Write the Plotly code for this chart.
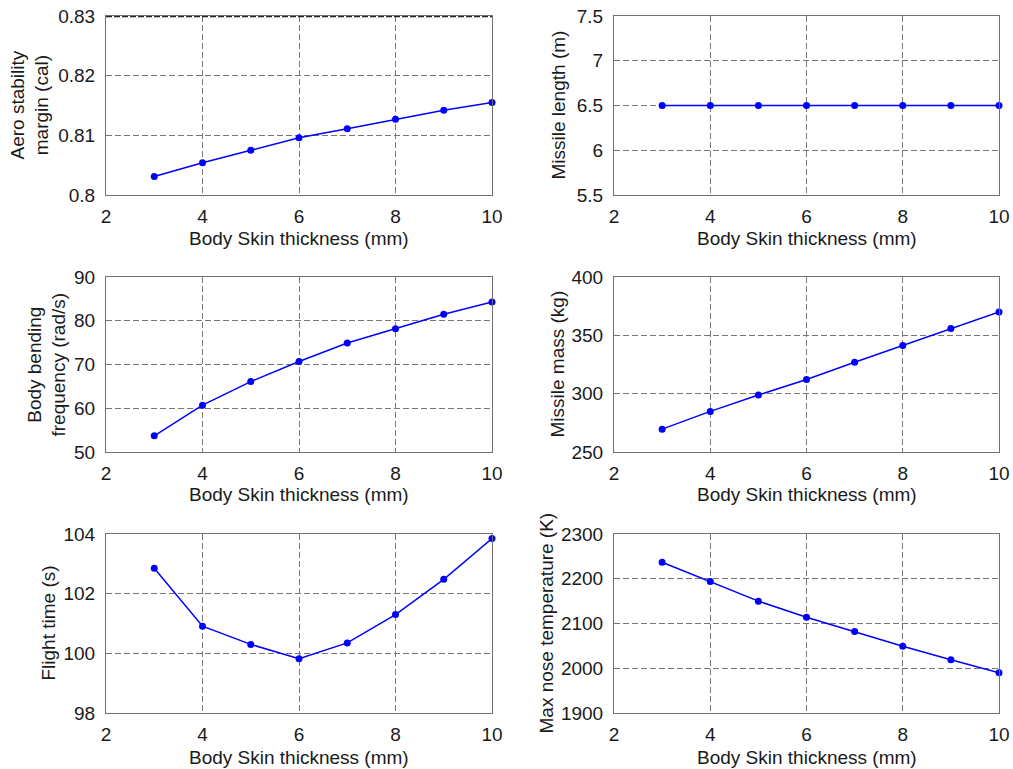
import plotly.graph_objects as go

# ---------------- data ----------------
thickness = [3, 4, 5, 6, 7, 8, 9, 10]
aero_margin = [0.8031, 0.8054, 0.8075, 0.8096, 0.8111, 0.8127, 0.8142, 0.8155]
missile_length = [6.5, 6.5, 6.5, 6.5, 6.5, 6.5, 6.5, 6.5]
bending_freq = [53.7, 60.7, 66.1, 70.7, 74.9, 78.2, 81.5, 84.3]
missile_mass = [269.6, 284.8, 298.8, 312.2, 326.9, 341.2, 355.9, 370.0]
flight_time = [102.85, 100.91, 100.30, 99.82, 100.35, 101.30, 102.48, 103.85]
nose_temp = [2237, 2194, 2150, 2114, 2082, 2049, 2019, 1990]

x_title = "Body Skin thickness (mm)"
y_titles = ["Aero stability<br>margin (cal)", "Missile length (m)",
            "Body bending<br>frequency (rad/s)", "Missile mass (kg)",
            "Flight time (s)", "Max nose temperature (K)"]
series = [aero_margin, missile_length, bending_freq, missile_mass, flight_time, nose_temp]
y_ranges = [[0.80, 0.83], [5.5, 7.5], [50, 90], [250, 400], [98, 104], [1900, 2300]]
y_dticks = [0.01, 0.5, 10, 50, 2, 100]
x_range = [2, 10]
x_dtick = 2

# ---------------- layout geometry (pixels) ----------------
W, H = 1013, 769
col_px = [(106, 492), (614, 999)]
row_px = [(16, 195), (277, 452), (534, 713)]
ytitle_x = [29, 558, 46, 557, 48, 546]
xtitle_y = [238, 494, 757]

FONT = "Liberation Sans, Arial, sans-serif"
FS = 19
TXT = "#1a1a1a"
GRID = "#777777"
LINE = "#707070"
BLUE = "#0000ff"

fig = go.Figure()
layout = dict(width=W, height=H, margin=dict(l=0, r=0, t=0, b=0, autoexpand=False),
              paper_bgcolor="white", plot_bgcolor="white", showlegend=False,
              font=dict(family=FONT, size=FS, color=TXT))
annotations = []

for i in range(6):
    r, c = divmod(i, 2)
    xa = "xaxis" if i == 0 else f"xaxis{i+1}"
    ya = "yaxis" if i == 0 else f"yaxis{i+1}"
    xr = "x" if i == 0 else f"x{i+1}"
    yr = "y" if i == 0 else f"y{i+1}"
    x0, x1 = col_px[c]
    y0, y1 = row_px[r]
    common = dict(showline=True, mirror=True, linecolor=LINE, linewidth=1,
                  showgrid=True, gridcolor=GRID, gridwidth=1, griddash="6px,3px",
                  zeroline=False, ticks="", automargin=False,
                  tickfont=dict(family=FONT, size=FS, color=TXT))
    layout[xa] = dict(common, domain=[x0 / W, x1 / W], range=x_range, dtick=x_dtick,
                      tick0=0, anchor=yr, ticklabelstandoff=4)
    layout[ya] = dict(common, domain=[1 - y1 / H, 1 - y0 / H], range=y_ranges[i],
                      dtick=y_dticks[i], tick0=0, anchor=xr, ticklabelstandoff=6)
    fig.add_trace(go.Scatter(x=thickness, y=series[i], mode="lines+markers",
                             line=dict(color=BLUE, width=1.5),
                             marker=dict(color=BLUE, size=7),
                             xaxis=xr, yaxis=yr, cliponaxis=False))
    annotations.append(dict(text=x_title, xref="paper", yref="paper",
                            x=(x0 + x1) / 2 / W, y=1 - xtitle_y[r] / H,
                            xanchor="center", yanchor="middle", showarrow=False,
                            font=dict(family=FONT, size=FS, color=TXT)))
    annotations.append(dict(text=y_titles[i], xref="paper", yref="paper",
                            x=ytitle_x[i] / W, y=1 - (y0 + y1) / 2 / H,
                            xanchor="center", yanchor="middle", showarrow=False,
                            textangle=-90,
                            font=dict(family=FONT, size=FS, color=TXT)))

layout["annotations"] = annotations
# dark dashed top border on first panel, as in the source figure
layout["shapes"] = [dict(type="line", xref="x", yref="y", x0=x_range[0], x1=x_range[1],
                         y0=y_ranges[0][1], y1=y_ranges[0][1],
                         line=dict(color="#222222", width=2.5, dash="6px,2px"))]
fig.update_layout(**layout)
fig.write_html("out.html")
